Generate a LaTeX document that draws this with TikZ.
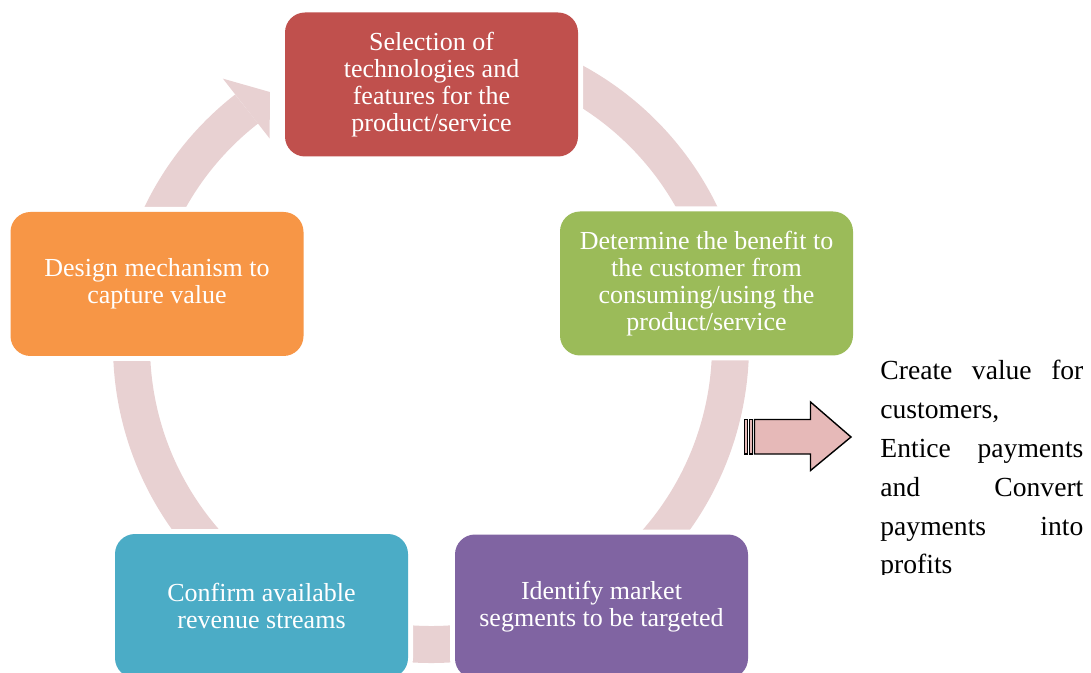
\documentclass[tikz,border=0pt]{standalone}
\usepackage{fontspec}
\setmainfont{Liberation Serif}
\usepackage{tikz}
\usetikzlibrary{calc}

\definecolor{ringpink}{RGB}{232,209,210}
\definecolor{selred}{RGB}{192,80,77}
\definecolor{benefitgreen}{RGB}{155,187,89}
\definecolor{segpurple}{RGB}{128,100,162}
\definecolor{revteal}{RGB}{75,172,198}
\definecolor{captorange}{RGB}{247,150,70}
\definecolor{blockpink}{RGB}{230,185,184}

\begin{document}
\begin{tikzpicture}[x=0.5pt,y=-0.5pt,
    stage/.style={rectangle, rounded corners=10pt, minimum width=146.5pt, minimum height=72pt,
      inner sep=0pt, align=center, text=white, font=\fontsize{13}{13.5}\selectfont,
      preaction={draw=white, line width=5pt}}]
  \useasboundingbox (0,0) rectangle (1091,673);

  % the ring behind the stages
  \begin{scope}
    \def\ringr{299.5}
    \def\ringw{18.5pt}
    \coordinate (hub) at (431,345);
    \draw[ringpink, line width=\ringw] ($(hub)+(-128:\ringr)$) arc[start angle=-128, end angle=-450, radius=\ringr];
    \fill[ringpink] ($(hub)+(-128:262)$) -- ($(hub)+(-122.5:300)$) -- ($(hub)+(-128:338)$) -- cycle;
  \end{scope}

  \node[stage, fill=selred] (select) at (431.5,84.5) {Selection of\\technologies and\\features for the\\product/service};
  \node[stage, fill=benefitgreen] (benefit) at (706.5,283.5) {Determine the benefit to\\the customer from\\consuming/using the\\product/service};
  \node[stage, fill=segpurple] (segment) at (601.5,606.5) {Identify market\\segments to be targeted};
  \node[stage, fill=revteal] (revenue) at (261.5,606) {Confirm available\\revenue streams};
  \node[stage, fill=captorange] (capture) at (157,284) {Design mechanism to\\capture value};

  % striped block arrow
  \begin{scope}[draw=black, line width=0.7pt, fill=blockpink]
    \foreach \s in {744.5,749.5}
      \filldraw (\s,419.5) rectangle ++(3,34.5);
    \filldraw (754.5,419.5) -- (810.5,419.5) -- (810.5,402) -- (851,437)
      -- (810.5,470.5) -- (810.5,454) -- (754.5,454) -- cycle;
  \end{scope}

  \begin{scope}
    \clip (870,340) rectangle (1091,574);
    \node[anchor=north west, inner sep=0pt, text width=101.5pt, align=left,
      font=\fontsize{13.8}{19.4}\selectfont] (outcome) at (880,360)
      {Create\hfill value\hfill for\\customers,\\Entice\hfill payments\\and\hfill Convert\\payments\hfill into\\profits};
  \end{scope}
\end{tikzpicture}
\end{document}
